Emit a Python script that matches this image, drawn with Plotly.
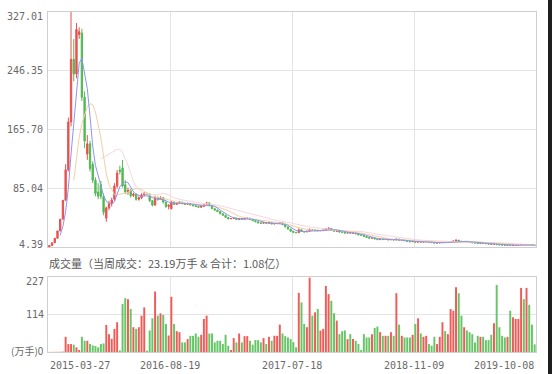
import plotly.graph_objects as go
import pandas as pd

# ---------------- data (weekly bars) ----------------
open_ = [4.39, 6.32, 10.18, 16.40, 26.41, 42.53, 68.49, 110.3, 176.0, 262.0,
         242.0, 296.0, 298.0, 210.0, 132.0, 146.0, 118.0, 96.0, 80.0, 90.0,
         74.0, 44.0, 58.0, 64.0, 70.0, 88.0, 110.0, 113.0, 90.0, 80.0,
         82.0, 75.0, 77.0, 70.0, 72.0, 76.0, 78.0, 77.0, 68.0, 62.0,
         72.0, 70.0, 72.0, 66.0, 60.0, 57.0, 66.0, 63.0, 65.0, 66.0,
         64.0, 63.0, 64.0, 62.0, 61.0, 60.0, 59.0, 60.0, 63.0, 65.0,
         61.0, 57.0, 55.0, 53.0, 50.0, 48.0, 45.0, 43.0, 43.5, 44.0,
         42.0, 43.5, 42.5, 43.5, 44.0, 42.0, 40.5, 39.0, 37.5, 37.0,
         38.0, 37.0, 37.8, 36.0, 36.5, 37.0, 37.5, 35.0, 32.0, 29.0,
         26.0, 24.5, 24.0, 28.0, 26.0, 25.0, 26.0, 28.0, 27.0, 27.5,
         26.5, 27.0, 27.5, 29.0, 30.0, 28.0, 26.0, 26.3, 25.0, 24.6,
         23.5, 24.0, 23.4, 23.8, 22.5, 21.0, 20.5, 19.0, 17.5, 16.5,
         16.8, 15.5, 14.5, 15.0, 14.6, 14.8, 14.2, 14.6, 14.0, 15.2,
         13.8, 13.9, 13.0, 12.3, 11.6, 12.0, 11.0, 11.8, 11.2, 11.5,
         11.8, 11.0, 10.4, 9.8, 10.0, 10.3, 11.0, 10.6, 10.8, 11.8,
         12.6, 13.8, 12.4, 11.6, 11.8, 11.4, 10.8, 10.2, 9.9, 9.4,
         9.6, 9.3, 8.9, 8.5, 8.1, 8.6, 7.7, 7.3, 7.0, 6.8,
         7.0, 6.5, 6.6, 6.9, 7.2, 7.9, 7.2, 7.8, 7.5, 6.9]

high = [6.32, 10.18, 16.40, 26.41, 42.53, 68.49, 118.0, 182.0, 327.01, 290.0,
        312.0, 306.0, 304.0, 218.0, 158.0, 150.0, 122.0, 100.0, 92.0, 95.0,
        78.0, 60.0, 68.0, 72.0, 92.0, 110.0, 116.0, 124.0, 96.0, 86.0,
        84.0, 79.0, 78.0, 74.0, 78.0, 80.0, 79.0, 78.0, 69.0, 75.0,
        74.0, 74.0, 73.0, 67.0, 63.0, 68.0, 67.0, 66.0, 67.0, 66.5,
        64.5, 65.0, 64.5, 62.5, 61.5, 60.5, 60.8, 63.8, 66.5, 65.5,
        61.5, 57.5, 55.5, 53.5, 50.5, 48.5, 45.5, 44.0, 44.6, 44.3,
        44.2, 43.9, 44.0, 44.6, 44.3, 42.3, 40.8, 39.3, 37.9, 38.4,
        38.3, 38.2, 38.0, 36.8, 37.3, 38.2, 37.7, 35.2, 32.2, 29.2,
        26.2, 24.7, 30.0, 28.6, 26.3, 26.4, 30.0, 28.4, 28.0, 27.8,
        27.3, 27.8, 29.8, 31.5, 30.3, 28.3, 26.7, 26.5, 25.3, 24.8,
        24.3, 24.2, 24.1, 24.0, 22.7, 21.2, 20.7, 19.2, 17.7, 17.1,
        17.0, 15.7, 15.3, 15.2, 15.0, 15.0, 14.8, 14.8, 16.0, 15.4,
        14.1, 14.0, 13.1, 12.4, 12.2, 12.1, 12.0, 11.9, 11.7, 12.0,
        11.9, 11.1, 10.5, 10.1, 10.4, 11.2, 11.1, 10.9, 12.0, 12.8,
        14.5, 14.0, 12.5, 12.0, 11.9, 11.5, 10.9, 10.3, 10.0, 9.7,
        9.7, 9.4, 9.0, 8.6, 8.8, 8.8, 7.8, 7.4, 7.1, 7.1,
        7.1, 6.7, 7.0, 7.3, 8.1, 8.0, 7.9, 7.9, 7.6, 7.0]

low = [4.39, 6.32, 10.18, 16.40, 26.41, 42.53, 68.49, 108.0, 170.0, 232.0,
       236.0, 290.0, 205.0, 140.0, 124.0, 108.0, 92.0, 74.0, 70.0, 70.0,
       48.0, 39.0, 55.0, 60.0, 68.0, 85.0, 104.0, 86.0, 77.0, 76.0,
       72.0, 73.0, 68.0, 68.0, 70.0, 74.0, 76.0, 66.0, 60.0, 61.0,
       68.0, 69.0, 64.0, 58.0, 56.0, 56.0, 62.0, 62.0, 64.0, 63.0,
       62.0, 62.5, 61.5, 60.5, 59.5, 58.5, 58.6, 59.5, 62.5, 60.5,
       56.5, 54.5, 52.5, 49.5, 47.5, 44.5, 42.5, 42.8, 43.0, 41.6,
       41.8, 42.1, 42.3, 43.2, 41.7, 40.2, 38.7, 37.2, 36.7, 36.8,
       36.8, 36.8, 35.7, 35.8, 36.3, 36.8, 34.7, 31.7, 28.7, 25.7,
       24.3, 23.8, 23.8, 25.7, 24.7, 24.8, 25.8, 26.7, 26.8, 26.2,
       26.3, 26.8, 27.3, 28.8, 27.7, 25.7, 25.8, 24.8, 24.4, 23.3,
       23.3, 23.2, 23.2, 22.3, 20.8, 20.3, 18.8, 17.3, 16.3, 16.3,
       15.3, 14.3, 14.3, 14.4, 14.4, 14.0, 14.0, 13.8, 13.8, 13.6,
       13.6, 12.8, 12.1, 11.4, 11.4, 10.8, 10.9, 11.0, 11.1, 11.4,
       10.9, 10.3, 9.7, 9.7, 9.9, 10.2, 10.5, 10.5, 10.7, 11.7,
       12.5, 12.3, 11.5, 11.5, 11.3, 10.7, 10.1, 9.8, 9.3, 9.3,
       9.2, 8.8, 8.4, 8.0, 8.0, 7.6, 7.2, 6.9, 6.7, 6.7,
       6.4, 6.4, 6.5, 6.8, 7.1, 7.1, 7.1, 7.4, 6.8, 6.5]

close = [6.32, 10.18, 16.40, 26.41, 42.53, 68.49, 110.3, 176.0, 262.0, 242.0,
         303.0, 300.0, 210.0, 150.0, 146.0, 112.0, 96.0, 78.0, 74.0, 74.0,
         52.0, 58.0, 64.0, 69.0, 88.0, 106.0, 108.0, 88.0, 80.0, 82.0,
         75.0, 77.0, 70.0, 72.0, 76.0, 78.0, 77.0, 68.0, 62.0, 72.0,
         70.0, 72.0, 66.0, 60.0, 62.0, 66.0, 63.0, 65.0, 66.0, 64.0,
         63.0, 64.0, 62.0, 61.0, 60.0, 59.0, 60.0, 63.0, 65.0, 61.0,
         57.0, 55.0, 53.0, 50.0, 48.0, 45.0, 43.0, 43.5, 44.0, 42.0,
         43.5, 42.5, 43.5, 44.0, 42.0, 40.5, 39.0, 37.5, 37.0, 38.0,
         37.0, 37.8, 36.0, 36.5, 37.0, 37.5, 35.0, 32.0, 29.0, 26.0,
         24.5, 24.0, 28.0, 26.0, 25.0, 26.0, 28.0, 27.0, 27.5, 26.5,
         27.0, 27.5, 29.0, 30.0, 28.0, 26.0, 26.3, 25.0, 24.6, 23.5,
         24.0, 23.4, 23.8, 22.5, 21.0, 20.5, 19.0, 17.5, 16.5, 16.8,
         15.5, 14.5, 15.0, 14.6, 14.8, 14.2, 14.6, 14.0, 15.2, 13.8,
         13.9, 13.0, 12.3, 11.6, 12.0, 11.0, 11.8, 11.2, 11.5, 11.8,
         11.0, 10.4, 9.8, 10.0, 10.3, 11.0, 10.6, 10.8, 11.8, 12.6,
         13.8, 12.4, 11.6, 11.8, 11.4, 10.8, 10.2, 9.9, 9.4, 9.6,
         9.3, 8.9, 8.5, 8.1, 8.6, 7.7, 7.3, 7.0, 6.8, 7.0,
         6.5, 6.6, 6.9, 7.2, 7.9, 7.2, 7.8, 7.5, 6.9, 6.6]

volume = [0.3, 0.4, 0.5, 0.6, 0.8, 1.2, 46, 24, 24, 22,
          14, 6, 46, 34, 34, 24, 20, 18, 14, 24,
          26, 82, 54, 40, 70, 90, 5, 145, 163, 160,
          130, 75, 70, 75, 110, 135, 4, 65, 102, 183,
          110, 117, 112, 85, 50, 167, 85, 63, 60, 29,
          29, 39, 49, 49, 56, 46, 52, 100, 110, 56,
          56, 29, 34, 34, 24, 52, 19, 6, 42, 29,
          56, 29, 48, 48, 34, 22, 36, 36, 29, 42,
          24, 46, 34, 49, 49, 83, 56, 48, 44, 39,
          30, 14, 179, 150, 85, 75, 225, 110, 120, 130,
          65, 70, 200, 175, 155, 117, 95, 54, 63, 65,
          39, 54, 39, 34, 24, 6, 54, 44, 44, 54,
          73, 77, 60, 49, 49, 49, 60, 49, 178, 83,
          49, 44, 44, 44, 52, 85, 102, 56, 46, 49,
          24, 19, 46, 24, 46, 90, 63, 54, 130, 125,
          196, 178, 110, 75, 65, 60, 54, 29, 49, 46,
          46, 36, 36, 52, 87, 203, 75, 49, 44, 46,
          125, 105, 100, 100, 194, 160, 194, 143, 83, 23.19]

date_labels = ["2015-03-27", "2016-08-19", "2017-07-18", "2018-11-09", "2019-10-08"]
price_ticks = [327.01, 246.35, 165.70, 85.04, 4.39]
volume_ticks = [227, 114, 0]
volume_title = "成交量（当周成交：23.19万手 & 合计：1.08亿）"

# ---------------- styling ----------------
W, H = 552, 374
RED_C = "#e8504f"
GREEN_C = "#52b952"
RED_V = "#ef5b57"
GREEN_V = "#66c566"
GRID = "#e4e4e4"
BORDER = "#cfcfcf"
TXT = "#6a6a6a"
MONO = "DejaVu Sans Mono"
CJK = "Noto Sans CJK SC"

N = len(close)
x = list(range(N))

def px_x(p):
    return p / W

def px_y(p):
    return 1 - p / H

s = pd.Series(close)
ma5 = s.rolling(5).mean()
ma10 = s.rolling(10).mean()
ma20 = s.rolling(20).mean()

fig = go.Figure()
fig.add_trace(go.Scatter(x=x, y=ma20, mode="lines", line=dict(color="#f7d6dc", width=1),
                         xaxis="x", yaxis="y", hoverinfo="skip", showlegend=False))
fig.add_trace(go.Scatter(x=x, y=ma10, mode="lines", line=dict(color="#f5cfa4", width=1),
                         xaxis="x", yaxis="y", hoverinfo="skip", showlegend=False))
fig.add_trace(go.Candlestick(
    x=x, open=open_, high=high, low=low, close=close,
    increasing=dict(line=dict(color=RED_C, width=1), fillcolor=RED_C),
    decreasing=dict(line=dict(color=GREEN_C, width=1), fillcolor=GREEN_C),
    whiskerwidth=0, xaxis="x", yaxis="y", showlegend=False))
fig.add_trace(go.Scatter(x=x, y=ma5, mode="lines", line=dict(color="#8e95f0", width=1),
                         xaxis="x", yaxis="y", hoverinfo="skip", showlegend=False))

vcolors = [RED_V if c >= o else GREEN_V for o, c in zip(open_, close)]
fig.add_trace(go.Bar(x=x, y=volume, marker=dict(color=vcolors, line=dict(width=0)),
                     width=0.72, xaxis="x2", yaxis="y2", showlegend=False))

xdom = [px_x(48), px_x(536)]
grid_x = [-0.5 + N * k / 4 for k in range(1, 4)]

axis_common = dict(showgrid=True, gridcolor=GRID, gridwidth=1, showline=True,
                   linecolor=BORDER, linewidth=1, mirror=True, zeroline=False,
                   ticks="", showticklabels=False, fixedrange=True)

fig.update_layout(
    width=W, height=H,
    margin=dict(l=0, r=0, t=0, b=0),
    paper_bgcolor="white", plot_bgcolor="white",
    showlegend=False, bargap=0.2,
    xaxis=dict(domain=xdom, range=[-0.5, N - 0.5], tickmode="array", tickvals=grid_x,
               anchor="y", rangeslider=dict(visible=False), **axis_common),
    yaxis=dict(domain=[px_y(247), px_y(12)], range=[min(low), max(high)],
               tickmode="array", tickvals=price_ticks, anchor="x", **axis_common),
    xaxis2=dict(domain=xdom, range=[-0.5, N - 0.5], tickmode="array", tickvals=grid_x,
                anchor="y2", **axis_common),
    yaxis2=dict(domain=[px_y(352), px_y(277)], range=[0, 227],
                tickmode="array", tickvals=volume_ticks, anchor="x2", **axis_common),
)

ann = []
# price labels
for i, v in enumerate(price_ticks):
    shift = -4 if i == 0 else (3 if i == len(price_ticks) - 1 else 0)
    ann.append(dict(x=px_x(45), xref="paper", xanchor="right", y=v, yref="y",
                    yanchor="middle", yshift=shift, text=f"{v:.2f}", showarrow=False,
                    font=dict(family=MONO, size=10, color=TXT)))
# volume labels
for v in volume_ticks:
    if v == 0:
        txt = "(万手)0"
        fam = CJK
        shift = 2
    else:
        txt = str(v)
        fam = MONO
        shift = -4 if v == max(volume_ticks) else 0
    ann.append(dict(x=px_x(46), xref="paper", xanchor="right", y=v, yref="y2",
                    yanchor="middle", yshift=shift, text=txt, showarrow=False,
                    font=dict(family=fam, size=10, color=TXT)))
# date labels
for k, d in enumerate(date_labels):
    xpos = -0.5 + N * k / 4
    anchor = "left" if k == 0 else ("right" if k == len(date_labels) - 1 else "center")
    ann.append(dict(x=xpos, xref="x2", xanchor=anchor, y=px_y(365), yref="paper",
                    yanchor="middle", text=d, showarrow=False,
                    font=dict(family=MONO, size=10, color=TXT)))
# volume title
ann.append(dict(x=px_x(47), xref="paper", xanchor="left", y=px_y(263), yref="paper",
                yanchor="middle", text=volume_title, showarrow=False,
                font=dict(family=CJK, size=11, color="#5a5a5a")))

fig.update_layout(annotations=ann)

# dark strip at the right edge of the picture
fig.add_shape(type="rect", xref="paper", yref="paper", x0=px_x(548), x1=1, y0=0, y1=1,
              fillcolor="#1e1e1e", line=dict(width=0), layer="above")

fig.write_html("out.html",
               config={"displayModeBar": False, "staticPlot": True},
               post_script="document.body.style.margin='0';document.body.style.overflow='hidden';")
